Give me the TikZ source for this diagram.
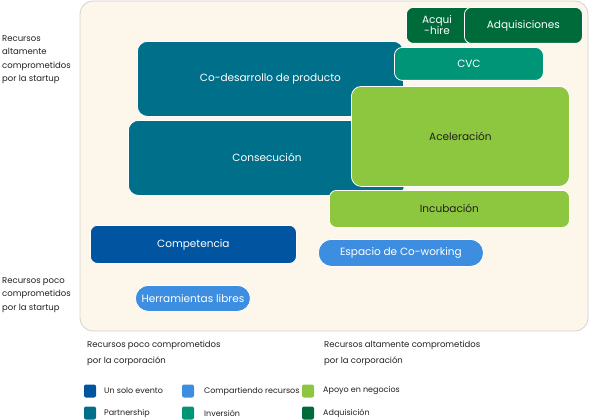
\documentclass[tikz,border=0pt]{standalone}
\usepackage{fontspec}
\setmainfont{Poppins}
\definecolor{cunsolo}{HTML}{0054A0}
\definecolor{cpartner}{HTML}{006F8A}
\definecolor{ccompart}{HTML}{3D8EE0}
\definecolor{cinvers}{HTML}{009577}
\definecolor{capoyo}{HTML}{8DC63F}
\definecolor{cadquis}{HTML}{006B3A}
\definecolor{cpanel}{HTML}{FCF6EB}
\definecolor{cedge}{HTML}{D6D2CC}
\definecolor{ctext}{HTML}{231F20}
\begin{document}
\begin{tikzpicture}[x=1pt,y=-1pt,
  box/.style={draw=white, line width=0.8pt, rounded corners=10pt, anchor=north west, inner sep=0pt, align=center, font=\fontsize{10.5}{12}\selectfont, text=white},
  side/.style={anchor=north west, align=left, inner sep=0pt, font=\fontsize{8.5}{13.5}\selectfont, text=ctext},
  bottom/.style={anchor=north west, align=left, inner sep=0pt, font=\fontsize{8.5}{16}\selectfont, text=ctext},
  leg/.style={rounded corners=2pt, minimum width=12pt, minimum height=13pt, inner sep=0pt},
  legtxt/.style={anchor=west, inner sep=0pt, font=\fontsize{8}{10}\selectfont, text=ctext}]
\useasboundingbox (0,0) rectangle (589,420);
\draw[fill=cpanel, draw=cedge, line width=0.8pt, rounded corners=13pt] (80,1) rectangle (588,331);
% boxes
\node[box, fill=cpartner, minimum width=266pt, minimum height=75pt] (codes) at (137,41) {Co-desarrollo de producto};
\node[box, fill=cpartner, minimum width=276pt, minimum height=75pt] (consec) at (128,120) {};
\node[text=white, font=\fontsize{10.5}{12}\selectfont] (consectxt) at (267,157) {Consecución};
\node[box, fill=cadquis, minimum width=66pt, minimum height=36pt, rounded corners=7pt] (acqui) at (406,7) {};
\node[text=white, font=\fontsize{10.5}{10}\selectfont, align=center, inner sep=0pt] (acquitxt) at (437,25) {Acqui\\-hire};
\node[box, fill=cadquis, minimum width=118pt, minimum height=36pt, rounded corners=7pt] (adq) at (464,7) {Adquisiciones};
\node[box, fill=cinvers, minimum width=149pt, minimum height=33pt, rounded corners=8pt] (cvc) at (394,47) {CVC};
\node[box, fill=capoyo, minimum width=218pt, minimum height=100pt, text=ctext] (acel) at (351,86) {Aceleración};
\node[box, fill=capoyo, minimum width=240pt, minimum height=37pt, rounded corners=7pt, text=ctext] (incub) at (329,190) {Incubación};
\node[box, fill=cunsolo, minimum width=206pt, minimum height=38pt, rounded corners=7pt] (comp) at (90,225) {Competencia};
\node[box, fill=ccompart, minimum width=165pt, minimum height=27pt, rounded corners=13pt] (cowork) at (318,239) {Espacio de Co-working};
\node[box, fill=ccompart, minimum width=115pt, minimum height=26pt, rounded corners=13pt] (herr) at (135,285) {Herramientas libres};
% side labels
\node[side] (lblhi) at (2,35) {Recursos\\altamente\\comprometidos\\por la startup};
\node[side] (lbllo) at (2,277) {Recursos poco\\comprometidos\\por la startup};
\node[bottom] (lblcl) at (87,341) {Recursos poco comprometidos\\por la corporación};
\node[bottom] (lblch) at (324,341) {Recursos altamente comprometidos\\por la corporación};
% legend
\node[leg, fill=cunsolo] (l1) at (90,391) {};
\node[legtxt] (t1) at (104,391) {Un solo evento};
\node[leg, fill=cpartner] (l2) at (90,413) {};
\node[legtxt] (t2) at (104,413) {Partnership};
\node[leg, fill=ccompart] (l3) at (188,391) {};
\node[legtxt] (t3) at (204,391) {Compartiendo recursos};
\node[leg, fill=cinvers] (l4) at (188,413) {};
\node[legtxt] (t4) at (204,413) {Inversión};
\node[leg, fill=capoyo] (l5) at (308,391) {};
\node[legtxt] (t5) at (323,391) {Apoyo en negocios};
\node[leg, fill=cadquis] (l6) at (308,413) {};
\node[legtxt] (t6) at (323,413) {Adquisición};
\end{tikzpicture}
\end{document}
